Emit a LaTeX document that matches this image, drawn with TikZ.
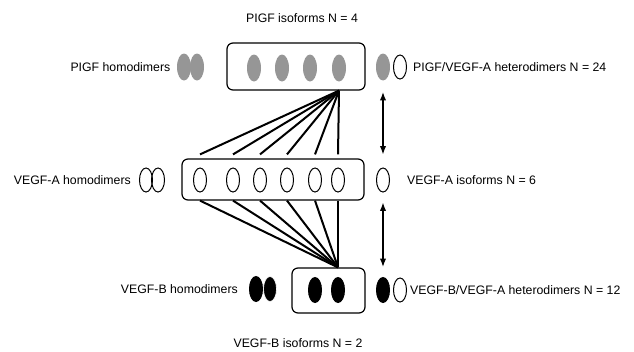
\documentclass[tikz,border=0pt]{standalone}
\usepackage{fontspec}
\setmainfont{Liberation Sans}
\usetikzlibrary{shapes.geometric,positioning,arrows.meta}
\definecolor{plgfgray}{RGB}{150,150,150}

\begin{document}
\begin{tikzpicture}[x=1pt, y=-1pt,
    box/.style = {draw, rounded corners=6pt, line width=1.2pt, inner sep=0pt},
    mono/.style = {ellipse, draw, line width=1pt, inner sep=0pt, minimum width=13pt, minimum height=24pt},
    plgf/.style = {mono, draw=none, fill=plgfgray, minimum width=14pt, minimum height=27pt},
    vegfb/.style = {mono, fill=black, minimum height=25pt},
    lbl/.style = {inner sep=0pt, font=\fontsize{12.3}{14}\selectfont},
    link/.style = {line width=2pt}]
  \useasboundingbox (0,0) rectangle (634,351);
  % isoform boxes
  \node[box, minimum width=138pt, minimum height=47pt] (pbox) at (296,66.5) {};
  \node[box, minimum width=182pt, minimum height=41pt] (abox) at (273,179.5) {};
  \node[box, minimum width=73pt, minimum height=45pt] (bbox) at (328.5,290.5) {};
  \foreach \x [count=\i] in {254,282,310,339}
    \node[plgf] (p\i) at (\x,68) {};
  \foreach \x [count=\i] in {200,233,260,287,315,338}
    \node[mono] (a\i) at (\x,180) {};
  \foreach \x [count=\i] in {315,338}
    \node[vegfb] (b\i) at (\x,290) {};
  % combinations
  \foreach \i in {1,...,6} {
    \path (abox.north -| a\i) ++(0,-4) coordinate (t\i);
    \draw[link] (pbox.south -| p4) -- (t\i);
    \draw[link] (abox.south -| a\i) -- (bbox.north -| b2);
  }
  % homodimers
  \node[plgf] (pd1) at (184,67) {};
  \node[plgf] (pd2) at (197,67) {};
  \node[mono] (ad1) at (146,180) {};
  \node[mono] (ad2) at (158,180) {};
  \node[vegfb] (bd1) at (256,289) {};
  \node[vegfb, draw=white, line width=0.6pt] (bd2) at (270,289) {};
  \node[lbl, left=6pt of pd1] {PIGF homodimers};
  \node[lbl, left=8pt of ad1] {VEGF-A homodimers};
  \node[lbl, left=11pt of bd1] {VEGF-B homodimers};
  % heterodimers
  \node[plgf] (hp) at (383,67) {};
  \node[mono] (hpa) at (400,67) {};
  \node[mono] (as) at (383,180) {};
  \node[vegfb] (hb) at (383,290) {};
  \node[mono] (hba) at (400,290) {};
  \node[lbl, right=6pt of hpa] {PIGF/VEGF-A heterodimers N = 24};
  \node[lbl, right=17pt of as] {VEGF-A isoforms N = 6};
  \node[lbl, right=3pt of hba] {VEGF-B/VEGF-A heterodimers N = 12};
  \node[lbl] (ptitle) at (302,18) {PIGF isoforms N = 4};
  \node[lbl] (btitle) at (298,343) {VEGF-B isoforms N = 2};
  %
  \draw[<->, >=Latex, line width=1.2pt, shorten <=11pt, shorten >=13pt] (hp) -- (as);
  \draw[<->, >=Latex, line width=1.2pt, shorten <=10pt, shorten >=10pt] (as) -- (hb);
\end{tikzpicture}
\end{document}
